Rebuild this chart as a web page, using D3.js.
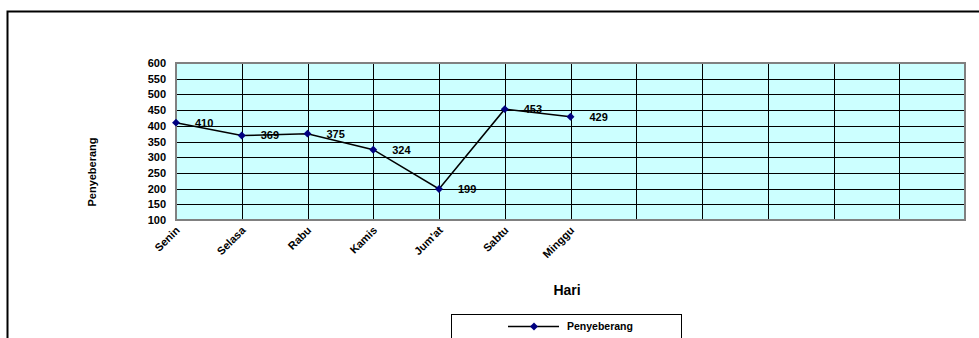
<!DOCTYPE html>
<html>
<head>
<meta charset="utf-8">
<script src="https://cdn.jsdelivr.net/npm/d3@7"></script>
<style>
  html, body { margin: 0; padding: 0; background: #fff; }
  svg { display: block; font-family: Arial, "Liberation Sans", sans-serif; }
</style>
</head>
<body>
<svg id="chart" width="979" height="338"></svg>
<script>
// Daily crossing counts
const days = ["Senin", "Selasa", "Rabu", "Kamis", "Jum'at", "Sabtu", "Minggu", "", "", "", "", "", ""];
const penyeberang = [410, 369, 375, 324, 199, 453, 429];
const yTicks = [100, 150, 200, 250, 300, 350, 400, 450, 500, 550, 600];
const seriesName = "Penyeberang";
const xTitle = "Hari";
const yTitle = "Penyeberang";

const svg = d3.select("#chart");
const plot = { left: 176, top: 63, right: 965, bottom: 220 };
const labelFont = "11px";

// Outer chart frame (only left and top edges fall inside the view)
svg.append("rect")
  .attr("x", 7.5).attr("y", 11.5)
  .attr("width", 1000).attr("height", 400)
  .attr("fill", "none").attr("stroke", "#000").attr("stroke-width", 2);

const x = d3.scalePoint()
  .domain(d3.range(days.length))
  .range([plot.left, plot.right]);

const y = d3.scaleLinear()
  .domain([100, 600])
  .range([plot.bottom, plot.top]);

// Plot background
svg.append("rect")
  .attr("x", plot.left).attr("y", plot.top)
  .attr("width", plot.right - plot.left).attr("height", plot.bottom - plot.top)
  .attr("fill", "#CCFFFF");

// Horizontal gridlines
svg.append("g")
  .selectAll("line")
  .data(yTicks)
  .join("line")
  .attr("x1", plot.left).attr("x2", plot.right)
  .attr("y1", d => Math.round(y(d)) + 0.5).attr("y2", d => Math.round(y(d)) + 0.5)
  .attr("stroke", "#000").attr("stroke-width", 1);

// Vertical gridlines at each category
svg.append("g")
  .selectAll("line")
  .data(d3.range(days.length))
  .join("line")
  .attr("x1", d => Math.round(x(d)) + 0.5).attr("x2", d => Math.round(x(d)) + 0.5)
  .attr("y1", plot.top).attr("y2", plot.bottom)
  .attr("stroke", "#000").attr("stroke-width", 1);

// Plot frame
svg.append("rect")
  .attr("x", plot.left).attr("y", plot.top)
  .attr("width", plot.right - plot.left).attr("height", plot.bottom - plot.top)
  .attr("fill", "none").attr("stroke", "#808080").attr("stroke-width", 2);

// Y axis
const yAxis = svg.append("g")
  .attr("transform", `translate(${plot.left},0)`)
  .call(d3.axisLeft(y).tickValues(yTicks).tickSize(0).tickPadding(10));
yAxis.select(".domain").remove();
yAxis.selectAll("text")
  .attr("font-size", labelFont).attr("font-weight", "bold")
  .attr("font-family", "Arial, 'Liberation Sans', sans-serif")
  .attr("fill", "#000");

// X axis labels, rotated
const xAxis = svg.append("g")
  .attr("transform", `translate(0,${plot.bottom})`)
  .call(d3.axisBottom(x).tickFormat(i => days[i]).tickSize(0));
xAxis.select(".domain").remove();
xAxis.selectAll("text")
  .attr("font-size", labelFont).attr("font-weight", "bold")
  .attr("font-family", "Arial, 'Liberation Sans', sans-serif")
  .attr("fill", "#000")
  .attr("text-anchor", "end")
  .attr("dy", null).attr("y", null)
  .attr("transform", "translate(4,11) rotate(-45)");

// Axis titles
svg.append("text")
  .attr("transform", "translate(96,172) rotate(-90)")
  .attr("text-anchor", "middle")
  .attr("font-size", labelFont).attr("font-weight", "bold")
  .text(yTitle);

svg.append("text")
  .attr("x", 567).attr("y", 295)
  .attr("text-anchor", "middle")
  .attr("font-size", "14px").attr("font-weight", "bold")
  .text(xTitle);

// Series line
const line = d3.line()
  .x((d, i) => x(i))
  .y(d => y(d));

svg.append("path")
  .datum(penyeberang)
  .attr("d", line)
  .attr("fill", "none").attr("stroke", "#000").attr("stroke-width", 1.5);

const diamond = d3.symbol().type(d3.symbolDiamond2).size(40);

svg.append("g")
  .selectAll("path")
  .data(penyeberang)
  .join("path")
  .attr("d", diamond)
  .attr("transform", (d, i) => `translate(${x(i)},${y(d)})`)
  .attr("fill", "#000080");

// Value labels
svg.append("g")
  .selectAll("text")
  .data(penyeberang)
  .join("text")
  .attr("x", (d, i) => x(i) + 19)
  .attr("y", d => y(d))
  .attr("dy", "0.36em")
  .attr("font-size", labelFont).attr("font-weight", "bold")
  .text(d => d);

// Legend
const legend = svg.append("g");
legend.append("rect")
  .attr("x", 451.5).attr("y", 314.5)
  .attr("width", 230).attr("height", 60)
  .attr("fill", "#fff").attr("stroke", "#000").attr("stroke-width", 1);
legend.append("line")
  .attr("x1", 508).attr("x2", 559)
  .attr("y1", 326.5).attr("y2", 326.5)
  .attr("stroke", "#000").attr("stroke-width", 1.5);
legend.append("path")
  .attr("d", diamond)
  .attr("transform", "translate(534,326.5)")
  .attr("fill", "#000080");
legend.append("text")
  .attr("x", 567).attr("y", 326.5).attr("dy", "0.36em")
  .attr("font-size", "10.5px").attr("font-weight", "bold")
  .text(seriesName);
</script>
</body>
</html>
